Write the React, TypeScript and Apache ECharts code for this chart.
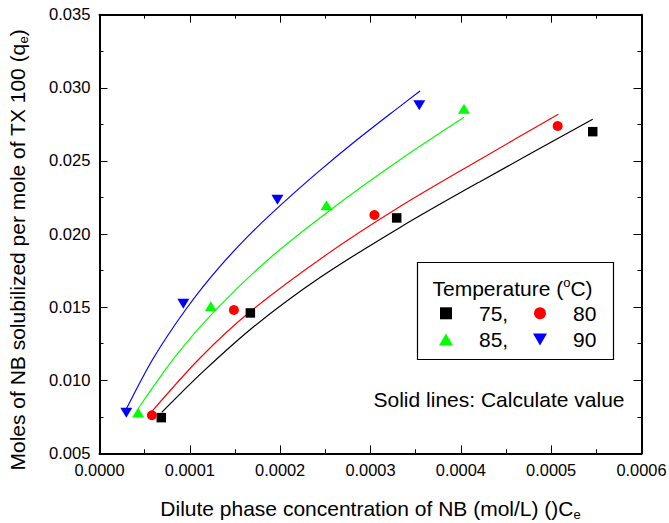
import React, { useEffect, useRef } from "react";
import * as echarts from "echarts";

const FONT = "'Liberation Sans', Arial, Helvetica, sans-serif";

// Measured points (Ce, qe)
const X75 = [0.0000684, 0.000167, 0.000329, 0.000546];
const Y75 = [0.00744, 0.01460, 0.02110, 0.0270];
const X80 = [0.0000580, 0.0001488, 0.0003043, 0.0005072];
const Y80 = [0.00760, 0.0148, 0.0213, 0.02739];
const X85 = [0.0000428, 0.0001232, 0.0002513, 0.0004035];
const Y85 = [0.00779, 0.01505, 0.02196, 0.02857];
const X90 = [0.0000297, 0.0000928, 0.0001970, 0.000354];
const Y90 = [0.00778, 0.01523, 0.02235, 0.0288];

// Calculated curves
const FIT75_X = [0.0000689, 0.0001149, 0.0001703, 0.0002441, 0.0003327, 0.0004212, 0.000546];
const FIT75_Y = [0.0078, 0.0106, 0.01364, 0.01702, 0.02045, 0.02358, 0.02785];
const FIT80_X = [0.0000578, 0.0001113, 0.0001666, 0.0002496, 0.0003327, 0.0004212, 0.0005079];
const FIT80_Y = [0.00785, 0.01152, 0.01468, 0.01852, 0.02188, 0.0251, 0.02819];
const FIT85_X = [0.000043, 0.0000855, 0.0001297, 0.0001888, 0.0002588, 0.0003327, 0.0004035];
const FIT85_Y = [0.00808, 0.01175, 0.01488, 0.01836, 0.02180, 0.02508, 0.02798];
const FIT90_X = [0.0000301, 0.0000596, 0.0000965, 0.0001334, 0.0001703, 0.0002072, 0.0002441, 0.000281, 0.000329, 0.0003548];
const FIT90_Y = [0.00808, 0.01150, 0.01492, 0.01778, 0.02021, 0.02235, 0.02435, 0.02624, 0.02856, 0.02978];

const SERIES_NAMES = ["75", "80", "85", "90"];
const LEGEND_LABELS = ["75,", "80", "85,", "90"];
const COLORS = ["#000000", "#ff0000", "#00ff00", "#0000ff"];

const X_TITLE = "Dilute phase concentration of NB (mol/L) ()C{sub|e}";
const Y_TITLE = "Moles of NB solubilized per mole of TX 100 (q{sub|e})";
const LEGEND_TITLE = "Temperature ({sup|o}C)";
const NOTE = "Solid lines: Calculate value";

const DOWN_TRI = "path://M0,0L12,0L6,10Z";
const SQUARE = "path://M0,0L10,0L10,10L0,10Z";

const zip = (xs: number[], ys: number[]) => xs.map((x, i) => [x, ys[i]]);

export default function App() {
  const ref = useRef<HTMLDivElement>(null);
  useEffect(() => {
    if (!ref.current) return;
    const chart = echarts.init(ref.current, null, { renderer: "svg" });
    const axisLine = () => ({ show: true, onZero: false, lineStyle: { color: "#000", width: 2 } });
    const tick = () => ({ show: true, inside: true, length: 8 });
    const minor = () => ({ show: true, splitNumber: 2, length: 4 });
    const subStyle = { fontSize: 13, fontFamily: FONT, color: "#000", verticalAlign: "bottom" as const };
    const scatterSym = [
      { symbol: "rect", symbolSize: 9.5 },
      { symbol: "circle", symbolSize: 10 },
      { symbol: "triangle", symbolSize: [12, 10] },
      { symbol: DOWN_TRI, symbolSize: [12, 10] },
    ];
    const pts = [zip(X75, Y75), zip(X80, Y80), zip(X85, Y85), zip(X90, Y90)];
    const fits = [zip(FIT75_X, FIT75_Y), zip(FIT80_X, FIT80_Y), zip(FIT85_X, FIT85_Y), zip(FIT90_X, FIT90_Y)];

    const legendPos = [
      { left: 440, top: 301.3, icon: SQUARE, w: 12, pad: 22 },
      { left: 534, top: 301.3, icon: "circle", w: 12, pad: 22 },
      { left: 439, top: 327.5, icon: "triangle", w: 14, pad: 21 },
      { left: 533, top: 327.5, icon: "path://M0,0L14,0L7,12Z", w: 14, pad: 21 },
    ];

    const xBase = (pos: string) => ({
      type: "value",
      position: pos,
      min: 0,
      max: 0.0006,
      interval: 0.0001,
      axisLine: axisLine(),
      axisTick: tick(),
      minorTick: minor(),
      splitLine: { show: false },
      minorSplitLine: { show: false },
    });
    const yBase = (pos: string) => ({
      type: "value",
      position: pos,
      min: 0.005,
      max: 0.035,
      interval: 0.005,
      axisLine: axisLine(),
      axisTick: tick(),
      minorTick: minor(),
      splitLine: { show: false },
      minorSplitLine: { show: false },
    });

    chart.setOption({
      animation: false,
      backgroundColor: "#fff",
      textStyle: { fontFamily: FONT },
      grid: { left: 99.5, top: 14.7, right: 27.5, bottom: 69.7, containLabel: false, outerBoundsMode: "none" },
      legend: legendPos.map((p, i) => ({
        show: true,
        left: p.left,
        top: p.top,
        padding: 0,
        itemWidth: p.w,
        itemHeight: 12,
        selectedMode: false,
        data: [{ name: SERIES_NAMES[i], icon: p.icon }],
        formatter: () => LEGEND_LABELS[i],
        textStyle: { fontSize: 21, fontFamily: FONT, color: "#000", lineHeight: 24, padding: [0, 0, 0, p.pad] },
      })),
      xAxis: [
        {
          ...xBase("bottom"),
          axisLabel: { formatter: (v: number) => v.toFixed(4), fontSize: 16.4, color: "#000", fontFamily: FONT, margin: 9 },
          name: X_TITLE,
          nameLocation: "middle",
          nameGap: 42,
          nameTextStyle: { fontSize: 21, fontFamily: FONT, color: "#000", lineHeight: 26, rich: { sub: subStyle } },
        },
        { ...xBase("top"), axisLabel: { show: false } },
      ],
      yAxis: [
        {
          ...yBase("left"),
          axisLabel: { formatter: (v: number) => v.toFixed(3), fontSize: 16.6, color: "#000", fontFamily: FONT, margin: 9 },
        },
        { ...yBase("right"), axisLabel: { show: false } },
      ],
      graphic: [
        {
          type: "text",
          x: 17,
          y: 250,
          rotation: Math.PI / 2,
          style: {
            text: Y_TITLE,
            fontSize: 21,
            fontFamily: FONT,
            fill: "#000",
            lineHeight: 26,
            align: "center",
            verticalAlign: "middle",
            textAlign: "center",
            textVerticalAlign: "middle",
            rich: { sub: { ...subStyle, fill: "#000" } },
          },
        },
        {
          type: "rect",
          shape: { x: 417.5, y: 262.5, width: 196, height: 97 },
          style: { fill: "none", stroke: "#000", lineWidth: 1.2 },
        },
        {
          type: "text",
          x: 512.5,
          y: 288,
          style: {
            text: LEGEND_TITLE,
            fontSize: 21,
            fontFamily: FONT,
            fill: "#000",
            lineHeight: 24,
            align: "center",
            verticalAlign: "middle",
            textAlign: "center",
            textVerticalAlign: "middle",
            rich: { sup: { fontSize: 13, fontFamily: FONT, fill: "#000", verticalAlign: "top" } },
          },
        },
        {
          type: "text",
          x: 499,
          y: 399.5,
          style: {
            text: NOTE,
            fontSize: 21,
            fontFamily: FONT,
            fill: "#000",
            align: "center",
            verticalAlign: "middle",
            textAlign: "center",
            textVerticalAlign: "middle",
          },
        },
      ],
      series: [
        ...fits.map((d, i) => ({
          type: "line",
          name: "fit" + SERIES_NAMES[i],
          data: d,
          smooth: 0.3,
          showSymbol: false,
          symbol: "none",
          lineStyle: { color: COLORS[i], width: 1.2 },
          z: 2,
          silent: true,
        })),
        ...pts.map((d, i) => ({
          type: "scatter",
          name: SERIES_NAMES[i],
          data: d,
          symbol: scatterSym[i].symbol,
          symbolSize: scatterSym[i].symbolSize,
          itemStyle: { color: COLORS[i], opacity: 1 },
          z: 3,
        })),
      ],
    });
    return () => chart.dispose();
  }, []);
  return (
    <div
      ref={ref}
      style={{ position: "fixed", left: 0, top: 0, width: 669, height: 523, background: "#fff" }}
    />
  );
}
